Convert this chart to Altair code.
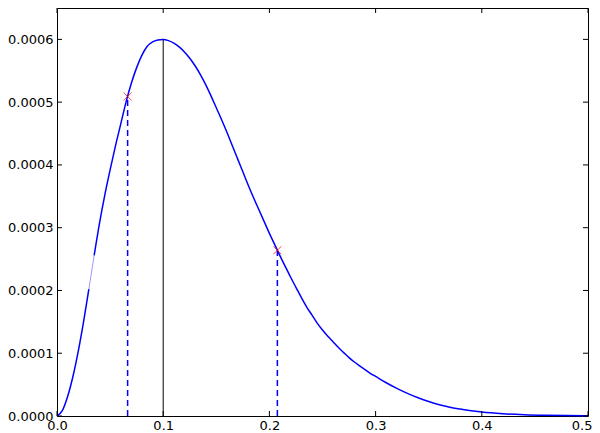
import altair as alt
import pandas as pd

# Curve values
xs = [0.000, 0.005, 0.010, 0.015, 0.020, 0.025, 0.030, 0.035, 0.040, 0.045,
      0.050, 0.055, 0.060, 0.065, 0.070, 0.075, 0.080, 0.085, 0.090, 0.095,
      0.100, 0.105, 0.110, 0.115, 0.120, 0.125, 0.130, 0.135, 0.140, 0.145,
      0.150, 0.155, 0.160, 0.165, 0.170, 0.175, 0.180, 0.185, 0.190, 0.195,
      0.200, 0.205, 0.210, 0.215, 0.220, 0.225, 0.230, 0.235, 0.240, 0.245,
      0.250, 0.255, 0.260, 0.265, 0.270, 0.275, 0.280, 0.285, 0.290, 0.295,
      0.300, 0.310, 0.320, 0.330, 0.340, 0.350, 0.360, 0.370, 0.380, 0.390,
      0.400, 0.420, 0.440, 0.460, 0.480, 0.500]
ys = [0.0, 0.0000085, 0.000031, 0.000063, 0.000103, 0.000150, 0.000202, 0.000256, 0.000307, 0.000352,
      0.000392, 0.000430, 0.000465, 0.000500, 0.000530, 0.000555, 0.000575, 0.000589, 0.000596, 0.000599,
      0.000600, 0.000598, 0.000594, 0.000588, 0.000580, 0.000570, 0.000558, 0.000544, 0.000528, 0.000510,
      0.000491, 0.000472, 0.000452, 0.000431, 0.000410, 0.000389, 0.000368, 0.000348, 0.000329, 0.000310,
      0.000291, 0.000273, 0.000255, 0.000238, 0.000221, 0.000205, 0.000189, 0.000174, 0.000161, 0.000148,
      0.000137, 0.000127, 0.000118, 0.000109, 0.000101, 0.000093, 0.000086, 0.000080, 0.000074, 0.000068,
      0.000063, 0.000053, 0.000044, 0.000036, 0.000029, 0.000023, 0.000018, 0.000014, 0.000011, 0.0000082,
      0.0000062, 0.0000036, 0.0000020, 0.0000011, 0.0000006, 0.0000003]

# Marked points (red crosses with dashed drops)
mark_x = [0.0665, 0.2075]
mark_y = [0.000509, 0.000264]

# Peak line
peak_x = [0.1]
peak_y = [0.0006]

x_ticks = [0.0, 0.1, 0.2, 0.3, 0.4, 0.5]
y_ticks = [0.0, 0.0001, 0.0002, 0.0003, 0.0004, 0.0005, 0.0006]

W, H = 531, 408

curve = pd.DataFrame({"x": xs, "y": ys})
marks = pd.DataFrame({"x": mark_x, "y": mark_y, "y0": [0.0] * len(mark_x)})
peak = pd.DataFrame({"x": peak_x, "y": peak_y, "y0": [0.0]})
xt = pd.DataFrame({"v": x_ticks})
yt = pd.DataFrame({"v": y_ticks})

xscale = alt.Scale(domain=[0, 0.5], nice=False, zero=False)
yscale = alt.Scale(domain=[0, 0.00065], nice=False, zero=False)

xax = alt.Axis(values=x_ticks, format=".1f", title=None, grid=False, ticks=False,
               domain=False, labelPadding=3, labelFontSize=13, labelFont="DejaVu Sans",
               labelColor="black", labelFlush=False,
               labelAlign={"expr": "datum.value >= 0.5 ? 'right' : 'center'"},
               labelOffset={"expr": "datum.value >= 0.5 ? 4 : 0"})
yax = alt.Axis(values=y_ticks, format=".4f", title=None, grid=False, ticks=False,
               domain=False, labelPadding=4, labelFontSize=13, labelFont="DejaVu Sans",
               labelColor="black", labelFlush=False)

X = alt.X("x:Q", scale=xscale, axis=xax)
Y = alt.Y("y:Q", scale=yscale, axis=yax)

base = alt.Chart(curve)
line_a = base.transform_filter("datum.x <= 0.030").mark_line(
    color="#0000ff", strokeWidth=1.5, interpolate="monotone").encode(x=X, y=Y)
line_thin = base.transform_filter("datum.x >= 0.030 && datum.x <= 0.035").mark_line(
    color="#5555ff", strokeWidth=0.6).encode(x=X, y=Y)
line_b = base.transform_filter("datum.x >= 0.035").mark_line(
    color="#0000ff", strokeWidth=1.5, interpolate="monotone").encode(x=X, y=Y)

peak_rule = alt.Chart(peak).mark_rule(color="black", strokeWidth=1).encode(
    x=alt.X("x:Q", scale=xscale), y=alt.Y("y0:Q", scale=yscale), y2="y:Q")

drops = alt.Chart(marks).mark_rule(color="#0000ff", strokeWidth=1.5, strokeDash=[6, 4]).encode(
    x=alt.X("x:Q", scale=xscale), y=alt.Y("y0:Q", scale=yscale), y2="y:Q")

crosses = alt.Chart(marks).mark_point(
    shape="M-1,-1L1,1M-1,1L1,-1", filled=False, color="#ff0000", strokeWidth=1, size=64
).encode(x=alt.X("x:Q", scale=xscale), y=alt.Y("y:Q", scale=yscale))

yl = alt.Chart(yt).mark_rule(color="black", strokeWidth=1).encode(
    y=alt.Y("v:Q", scale=yscale), x=alt.value(0), x2=alt.value(5))
yr = alt.Chart(yt).mark_rule(color="black", strokeWidth=1).encode(
    y=alt.Y("v:Q", scale=yscale), x=alt.value(W - 5), x2=alt.value(W))
xb = alt.Chart(xt).mark_rule(color="black", strokeWidth=1).encode(
    x=alt.X("v:Q", scale=xscale), y=alt.value(H - 5), y2=alt.value(H))
xtop = alt.Chart(xt).mark_rule(color="black", strokeWidth=1).encode(
    x=alt.X("v:Q", scale=xscale), y=alt.value(0), y2=alt.value(5))

chart = alt.layer(
    line_a, line_thin, line_b, peak_rule, drops, crosses, yl, yr, xb, xtop
).properties(
    width=W, height=H,
    autosize=alt.AutoSizeParams(type="none"),
    padding={"left": 49, "top": 0, "right": 4, "bottom": 16},
    background="white",
).configure_view(
    stroke="black", strokeWidth=1
)

chart.save("out.html", embed_options={"renderer": "svg", "actions": False})
